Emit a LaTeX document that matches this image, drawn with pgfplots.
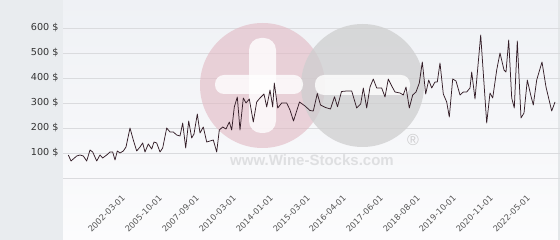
\documentclass[border=0pt]{standalone}
\usepackage{pgfplots}
\pgfplotsset{compat=1.18}
\usepackage{fontspec}
\setmainfont{DejaVu Sans}
\newfontfamily\wmfont{Liberation Sans}
\definecolor{leftbg}{RGB}{233,236,239}
\definecolor{plottop}{RGB}{239,241,245}
\definecolor{plotbot}{RGB}{252,252,253}
\definecolor{gridcol}{RGB}{218,219,222}
\definecolor{linecol}{RGB}{52,30,40}
\definecolor{pinkwm}{RGB}{226,186,196}
\definecolor{graywm}{RGB}{206,206,207}
\definecolor{txtwm}{RGB}{222,223,225}
\definecolor{ylab}{RGB}{51,51,51}
\definecolor{xlab}{RGB}{85,85,85}
\begin{document}
\begin{tikzpicture}[x=1pt,y=1pt]
\fill[leftbg] (0,0) rectangle (560,240);
\shade[top color=plottop, bottom color=plotbot] (63,0) rectangle (560,240);
\fill[leftbg!95!gray] (557.5,0) rectangle (560,240);
\begin{axis}[
  at={(63pt,62pt)}, anchor=south west,
  scale only axis, width=497pt, height=178pt,
  xmin=63, xmax=560, ymin=0, ymax=712,
  axis line style={draw=none},
  major tick length=0pt,
  ymajorgrids, grid style={gridcol, line width=0.7pt},
  ytick={0,100,200,300,400,500,600},
  yticklabels={,100 \$,200 \$,300 \$,400 \$,500 \$,600 \$},
  yticklabel style={font=\fontsize{9.6}{11}\selectfont, color=ylab, xshift=-1pt},
  xtick={126,163,200,237,274,311,347,384,421,457,494,531},
  xticklabels={2002-03-01,2005-10-01,2007-09-01,2010-03-01,2014-01-01,2015-03-01,2016-04-01,2017-06-01,2018-08-01,2019-10-01,2020-11-01,2022-05-01},
  xticklabel style={font=\fontsize{8.3}{10}\selectfont, color=xlab, rotate=45, anchor=east},
  xticklabel shift=16pt,
  /pgf/number format/assume math mode=true,
]
% watermark
\fill[pinkwm, opacity=0.62] (axis cs:262.5,370) circle[radius=62.5pt];
\fill[graywm, opacity=0.75] (axis cs:362.5,370) circle[radius=61.5pt];
\fill[white, opacity=0.8, rounded corners=12pt] (axis cs:249,560) rectangle (axis cs:276,180);
\fill[white, opacity=0.8, rounded corners=9pt] (axis cs:215,412) rectangle (axis cs:303,336);
\fill[white, opacity=0.8, rounded corners=9pt] (axis cs:315,412) rectangle (axis cs:410,332);
\node[font=\wmfont\bfseries\fontsize{15}{16}\selectfont, text=txtwm] at (axis cs:312,70) {www.Wine-Stocks.com};
\node[font=\wmfont\fontsize{16}{16}\selectfont, text=graywm] at (axis cs:413,152) {®};
\addplot[color=linecol, line width=0.75pt, line join=round] coordinates {
(68.3,92)(71,68)(76.7,88)(80,92)(83.3,88)(86.7,68)(90,112)(92.7,104)(96.7,68)(100,92)
(102.7,80)(106.7,92)(110,104)(112.7,104)(115,72)(117.3,108)(120,100)(123.3,108)(126,124)(130,200)
(133.3,152)(136.7,108)(140,124)(142.7,140)(145,104)(148.3,136)(151.7,116)(154,144)(156.7,140)(160,104)
(162.7,120)(166.7,200)(170,184)(173.3,184)(176.7,172)(180,168)(182.7,220)(185.7,120)(188.7,228)(191.7,160)
(194,176)(197.3,256)(200,180)(203.3,204)(206.7,144)(210,148)(213.3,152)(216.7,104)(219.3,192)(222.7,204)
(226,196)(229.3,224)(231.7,192)(234.3,284)(237.3,324)(240,192)(243.3,320)(246,300)(249.3,316)(253.3,224)
(256.7,304)(260,320)(264,336)(266.7,284)(270,352)(272.7,284)(274.3,380)(277.7,280)(281.7,300)(286.7,300)
(290,272)(293.5,228)(299.5,304)(305,288)(310,270)(313.3,268)(317.3,338)(320.5,292)(325.5,282)(330.5,276)
(334.5,325)(337.5,285)(341.5,346)(346.7,348)(351.7,348)(356.7,280)(360.7,296)(363.3,360)(366.7,280)(370,364)
(373.3,396)(376.7,360)(381.7,360)(385,324)(388.3,396)(391.7,368)(395,344)(400,340)(403.3,332)(406,364)
(409.3,280)(412.7,332)(416,344)(419.3,380)(422.3,464)(425.7,336)(428.7,392)(431.7,360)(435,384)(437.3,384)
(440,460)(443.3,336)(446.7,304)(449.3,244)(452.7,396)(456,388)(460,332)(463.3,344)(466.7,344)(470,360)
(471.7,424)(475,316)(480.7,572)(486.7,220)(490,340)(492.7,320)(496.7,432)(500,500)(504,432)(506,424)
(508.7,552)(511.7,320)(514.3,280)(517.3,548)(521,240)(524,260)(527.3,392)(530.7,332)(533.3,292)(536.7,392)
(542,464)(546,364)(551.7,268)(555,304)
};
\end{axis}
\pgfresetboundingbox
\useasboundingbox (0,0) rectangle (560,240);
\end{tikzpicture}
\end{document}
